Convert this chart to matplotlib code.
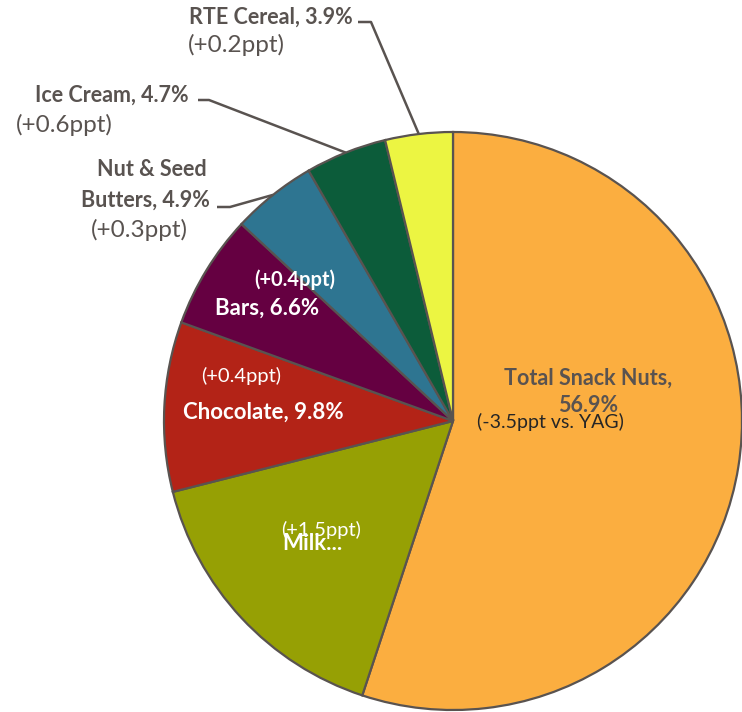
import numpy as np
import matplotlib.pyplot as plt

# category share of snacking dollars
categories = ["Total Snack Nuts", "Milk", "Chocolate", "Bars",
              "Nut & Seed Butters", "Ice Cream", "RTE Cereal"]
shares = [56.9, 16.5, 9.8, 6.6, 4.9, 4.7, 3.9]
changes = ["-3.5", "+1.5", "+0.4", "+0.4", "+0.3", "+0.6", "+0.2"]
colors = ["#FBAE40", "#96A004", "#B32317", "#650041",
          "#2E7591", "#0C5C3A", "#ECF542"]

plt.rcParams['font.family'] = ['Lato', 'DejaVu Sans']
grey = "#595350"

fig = plt.figure(figsize=(7.42, 7.12), dpi=100)
ax = fig.add_axes([0, 0, 1, 1])

cx, cy, r = 453, 291, 289
wedges, _ = ax.pie(shares, colors=colors, startangle=90, counterclock=False,
                   center=(cx, cy), radius=r, frame=False,
                   wedgeprops=dict(edgecolor=grey, linewidth=1.6))
ax.set_xlim(0, 742)
ax.set_ylim(0, 712)
ax.set_aspect('equal')
ax.axis('off')


def edge_point(w):
    a = np.deg2rad((w.theta1 + w.theta2) / 2)
    return cx + r * np.cos(a), cy + r * np.sin(a)


# outside labels: index, bold lines with (x, y), sub-label (x, y), elbow segment
outside = [
    (6, [("RTE Cereal, " + f"{shares[6]}%", 271, 695)], (236, 667), (358, 371, 690)),
    (5, [("Ice Cream, " + f"{shares[5]}%", 112, 617)], (64, 587), (198, 209, 612)),
    (4, [("Nut & Seed", 152, 542), ("Butters, " + f"{shares[4]}%", 145, 512)],
     (139, 482), (217, 230, 505)),
]
for i, lines, sub, (x0, x1, ly) in outside:
    for s, x, y in lines:
        ax.text(x, y, s, ha='center', va='center', fontsize=15.5,
                fontweight='bold', color=grey)
    ax.text(sub[0], sub[1], f"({changes[i]}ppt)", ha='center', va='center',
            fontsize=17.5, color=grey)
    ex, ey = edge_point(wedges[i])
    ax.plot([x0, x1, ex], [ly, ly, ey], color=grey, lw=1.8,
            solid_capstyle='butt')

# inside labels
ax.text(295, 432, f"({changes[3]}ppt)", ha='center', va='center', fontsize=14.5,
        fontweight='bold', color='white')
ax.text(267, 404, f"Bars, {shares[3]}%", ha='center', va='center', fontsize=16,
        fontweight='bold', color='white')
ax.text(241, 336, f"({changes[2]}ppt)", ha='center', va='center', fontsize=14.5,
        color='white')
ax.text(263, 300, f"Chocolate, {shares[2]}%", ha='center', va='center',
        fontsize=16, fontweight='bold', color='white')
ax.text(321, 182, f"({changes[1]}ppt)", ha='center', va='center', fontsize=14.5,
        color='white')
ax.text(312, 169, "Milk...", ha='center', va='center', fontsize=16,
        fontweight='bold', color='white')

ax.text(588, 334, "Total Snack Nuts,", ha='center', va='center', fontsize=15.5,
        fontweight='bold', color=grey)
ax.text(588, 306, f"{shares[0]}%", ha='center', va='center', fontsize=15.5,
        fontweight='bold', color=grey)
ax.text(550, 290, f"({changes[0]}ppt vs. YAG)", ha='center', va='center',
        fontsize=14, color='#262626')

fig.savefig("out.png", dpi=100)
